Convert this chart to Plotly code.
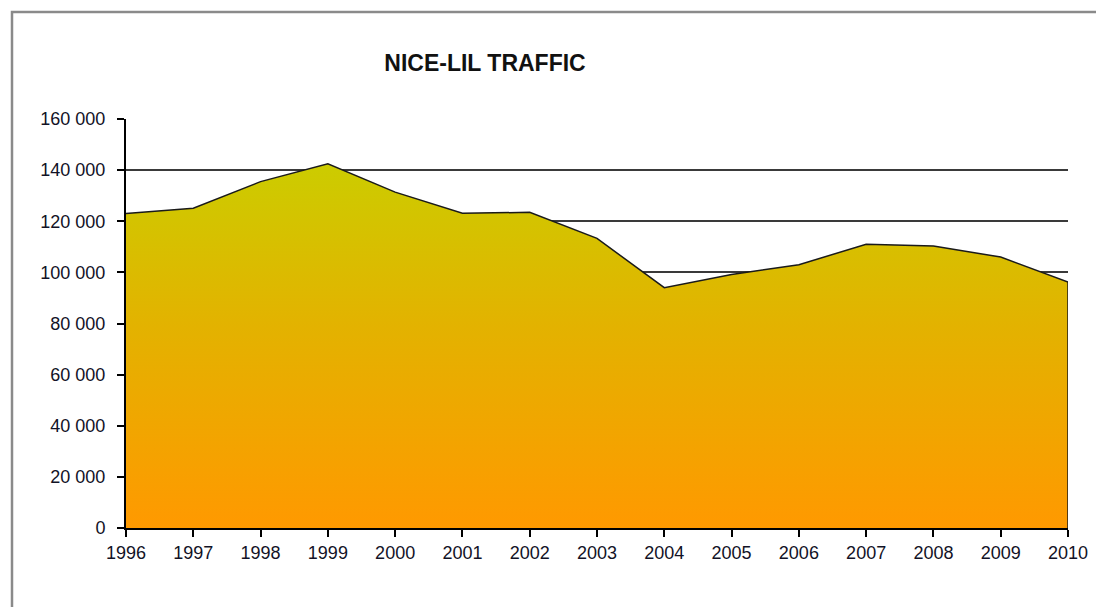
import plotly.graph_objects as go

years = [1996, 1997, 1998, 1999, 2000, 2001, 2002, 2003, 2004, 2005, 2006, 2007, 2008, 2009, 2010]
traffic = [123000, 125100, 135500, 142500, 131400, 123100, 123500, 113300, 94000, 99200, 103000, 111000, 110300, 106000, 96200]
y_ticks = [0, 20000, 40000, 60000, 80000, 100000, 120000, 140000, 160000]
title_text = "NICE-LIL TRAFFIC"

# page has an 8px body margin, so the figure is sized/offset for it
W, H = 1096, 599

fig = go.Figure()

# area with vertical yellow -> orange gradient
fig.add_trace(go.Scatter(
    x=years, y=traffic, mode="lines", fill="tozeroy",
    line=dict(color="#1a1a1a", width=1.5),
    fillgradient=dict(type="vertical",
                      colorscale=[[0, "#FF9900"], [0.55, "#E3B200"], [1, "#CCCC00"]]),
    hoverinfo="x+y", showlegend=False,
))

# closing edge of the area at the last year
fig.add_trace(go.Scatter(
    x=[years[-1], years[-1]], y=[0, traffic[-1]], mode="lines",
    line=dict(color="#1a1a1a", width=1.5), showlegend=False, hoverinfo="skip",
))

fig.update_layout(
    width=W, height=H,
    margin=dict(l=118, r=36, t=111, b=79),
    paper_bgcolor="white", plot_bgcolor="white",
    separators=". ",
    font=dict(family="Liberation Sans, Arial, sans-serif", size=18, color="#121226"),
    title=dict(text="<b>" + title_text + "</b>", x=477 / W, xref="container", xanchor="center",
               y=1 - 55 / H, yref="container", yanchor="middle",
               font=dict(size=23, color="#111111")),
    xaxis=dict(range=[years[0], years[-1]], tickvals=years, ticks="outside", ticklen=7,
               tickwidth=1.5, tickcolor="black", showline=True, linecolor="black",
               linewidth=2, showgrid=False, zeroline=False, fixedrange=True),
    yaxis=dict(range=[0, 160000], tickvals=y_ticks, tickformat=",d", ticks="outside",
               ticklen=7, tickwidth=1.5, tickcolor="black", showline=True,
               linecolor="black", linewidth=2, showgrid=True, gridcolor="#3a3a3a",
               gridwidth=1.8, zeroline=False, fixedrange=True, ticklabelstandoff=8),
    shapes=[dict(type="rect", xref="paper", yref="paper",
                 x0=-114 / 942, x1=1.2, y0=-0.5, y1=1 + 107 / 409,
                 line=dict(color="#8a8a8a", width=2.5), layer="below")],
)

fig.write_html("out.html")
